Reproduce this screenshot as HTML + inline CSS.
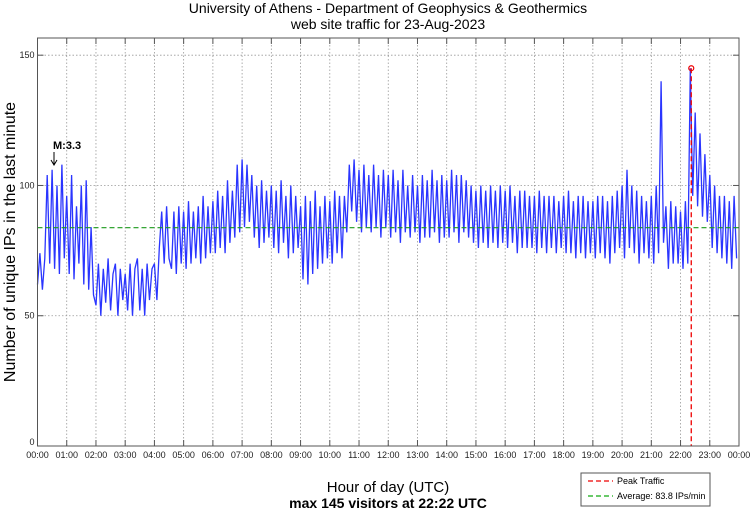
<!DOCTYPE html>
<html><head><meta charset="utf-8"><style>
body{margin:0;background:#fff;}
svg{display:block;font-family:"Liberation Sans",sans-serif;}
</style></head><body>
<svg id="chart" width="750" height="511" viewBox="0 0 750 511">
<text x="388" y="13" font-size="14" text-anchor="middle">University of Athens - Department of Geophysics &amp; Geothermics</text>
<text x="388" y="29" font-size="14" text-anchor="middle">web site traffic for 23-Aug-2023</text>
<g id="grid"></g>
<g id="series"></g>
<g id="axes"></g>
<text transform="translate(15,242) rotate(-90)" font-size="16" text-anchor="middle">Number of unique IPs in the last minute</text>
<text x="388" y="492" font-size="15" text-anchor="middle">Hour of day (UTC)</text>
<text x="388" y="508" font-size="14" font-weight="bold" text-anchor="middle">max 145 visitors at 22:22 UTC</text>
<text x="53" y="149" font-size="11" font-weight="bold">M:3.3</text>
<g><line x1="54" y1="152" x2="54" y2="164" stroke="#000" stroke-width="1"/><path d="M51,160 L54,165 L57,160" fill="none" stroke="#000"/></g>
<g>
<rect x="581" y="473" width="129" height="33" fill="#fff" stroke="#555" stroke-width="1"/>
<line x1="588" y1="481" x2="613" y2="481" stroke="#e00" stroke-width="1.3" stroke-dasharray="5,3"/>
<text x="617" y="484" font-size="9">Peak Traffic</text>
<line x1="588" y1="496" x2="613" y2="496" stroke="#1a1" stroke-width="1.3" stroke-dasharray="5,3"/>
<text x="617" y="499" font-size="9">Average: 83.8 IPs/min</text>
</g>
</svg>
<script>
const yTicks=[0,50,100,150];
const xTickLabels=["00:00","01:00","02:00","03:00","04:00","05:00","06:00","07:00","08:00","09:00","10:00","11:00","12:00","13:00","14:00","15:00","16:00","17:00","18:00","19:00","20:00","21:00","22:00","23:00","00:00"];
const averageValue=83.8;
const peakValue=145;
const peakHour=22+22/60;
const traffic=[
62,74,60,72,104,70,106,68,100,66,108,72,
96,66,104,64,92,70,100,62,102,60,84,58,
54,70,50,68,55,72,52,66,70,50,68,56,
66,52,70,50,68,72,52,68,50,70,56,68,
70,56,76,90,70,92,72,68,90,66,92,70,
90,68,94,70,90,72,92,70,96,72,92,74,
94,74,98,76,96,74,102,78,98,80,108,82,
110,84,108,86,104,80,100,76,102,78,98,80,
100,76,98,74,102,78,96,72,100,74,96,76,
92,64,96,62,94,66,98,68,92,70,96,72,
94,70,98,74,96,72,96,82,108,90,110,86,
106,82,108,84,104,82,108,84,104,80,106,84,
104,80,106,82,102,78,106,82,100,80,104,82,
100,78,104,80,102,80,106,82,102,78,104,80,
102,80,106,82,104,78,104,82,102,80,100,78,
98,76,100,78,98,76,100,78,98,76,100,78,
98,76,100,78,96,74,98,76,98,76,96,76,
96,74,98,76,96,74,96,76,96,74,94,76,
96,74,98,74,94,72,96,74,96,72,94,74,
94,72,96,74,96,72,94,70,96,74,98,76,
100,72,106,76,100,74,98,70,96,74,94,72,
96,70,100,74,140,78,92,68,94,70,92,70,
90,68,94,70,145,96,128,92,120,88,112,86,
104,76,100,74,96,72,96,70,94,68,96,72
];
const L=37.5,R=739,T=38,B=446,YMAX=156.6;
const xs=h=>L+(R-L)*h/24;
const ys=v=>B-(B-T)*v/YMAX;
const NS="http://www.w3.org/2000/svg";
function mk(tag,attrs,parent){const e=document.createElementNS(NS,tag);for(const k in attrs)e.setAttribute(k,attrs[k]);parent.appendChild(e);return e;}
const grid=document.getElementById('grid'),axes=document.getElementById('axes'),series=document.getElementById('series');
xTickLabels.forEach((lab,i)=>{
  const x=xs(i);
  if(i>0&&i<24){const g=mk('line',{x1:x,y1:T,x2:x,y2:B,stroke:'#999','stroke-width':0.8,'stroke-dasharray':'1.5,2'},grid);
  
  }
  const t=mk('line',{x1:x,y1:B,x2:x,y2:B-6,stroke:'#555'},axes);
  
  
  const tt=mk('line',{x1:x,y1:T,x2:x,y2:T+6,stroke:'#555'},axes);
  
  
  const tx=mk('text',{x:x,y:458,'font-size':9,'text-anchor':'middle',fill:'#222'},axes);
  tx.textContent=lab;
  
  
});
yTicks.forEach(v=>{
  const y=ys(v);
  if(v>0){const g=mk('line',{x1:L,y1:y,x2:R,y2:y,stroke:'#999','stroke-width':0.8,'stroke-dasharray':'1.5,2'},grid);
  
  }
  const t=mk('line',{x1:L,y1:y,x2:L+6,y2:y,stroke:'#555'},axes);
  
  
  const t2=mk('line',{x1:R,y1:y,x2:R-6,y2:y,stroke:'#555'},axes);
  
  
  const tx=mk('text',{x:L-3,y:v===0?y-1:y+3,'font-size':9,'text-anchor':'end',fill:'#222'},axes);
  tx.textContent=String(v);
  
  
});
const frame=mk('rect',{x:L,y:T,width:R-L,height:B-T,fill:'none',stroke:'#555','stroke-width':1},axes);


const n=traffic.length;
const pts=traffic.map((v,i)=>xs(i*24/n).toFixed(1)+','+ys(v).toFixed(1)).join(' ');
const line=mk('polyline',{points:pts,fill:'none',stroke:'#2a35ff','stroke-width':1.3},series);


const avg=mk('line',{x1:L,y1:ys(averageValue),x2:R,y2:ys(averageValue),stroke:'#1a9a1a','stroke-width':1.2,'stroke-dasharray':'5,3'},series);


const pk=mk('line',{x1:xs(peakHour),y1:ys(peakValue),x2:xs(peakHour),y2:B,stroke:'#e00','stroke-width':1.3,'stroke-dasharray':'5,3'},series);


const pc=mk('circle',{cx:xs(peakHour),cy:ys(peakValue),r:2.5,fill:'none',stroke:'#e00','stroke-width':1.2},series);


</script>
</body></html>
